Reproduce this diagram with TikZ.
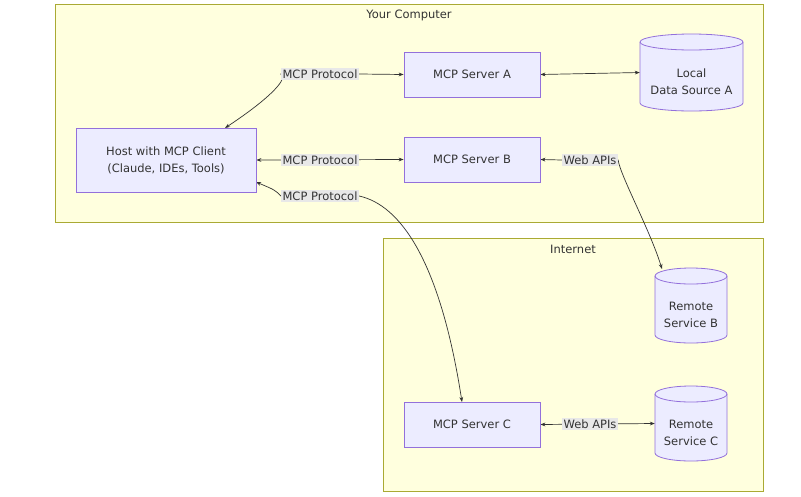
\documentclass[tikz,border=0pt]{standalone}
\usepackage{fontspec}
\setmainfont{DejaVu Sans}
\usetikzlibrary{arrows.meta}
\pgfdeclarelayer{bg}\pgfdeclarelayer{edges}
\pgfsetlayers{bg,edges,main}
\definecolor{cfill}{HTML}{FFFFDE}\definecolor{cline}{HTML}{AAAA33}
\definecolor{nfill}{HTML}{ECECFF}\definecolor{nline}{HTML}{9370DB}
\definecolor{txt}{HTML}{333333}\definecolor{lbl}{HTML}{E8E8E8}
\newcommand{\mycyl}[6]{% name, cx, cy, w, h, text
 \pgfmathsetmacro{\L}{#2-#4/2}\pgfmathsetmacro{\R}{#2+#4/2}
 \pgfmathsetmacro{\T}{#3-#5/2+8}\pgfmathsetmacro{\B}{#3+#5/2-8}\pgfmathsetmacro{\rx}{#4/2}
 \draw[cyl] (\L,\T) -- (\L,\B) arc[start angle=180,end angle=0,x radius=\rx,y radius=8] -- (\R,\T) arc[start angle=360,end angle=180,x radius=\rx,y radius=8] -- cycle;
 \draw[cyl,fill=none] (\L,\T) arc[start angle=180,end angle=0,x radius=\rx,y radius=8];
 \node[minimum width=#4pt,minimum height=#5pt,align=center,text depth=0pt] (#1) at (#2,#3) {};
 \node[align=center] (#1t) at (#2,#3+9) {#6};}
\begin{document}
\begin{tikzpicture}[x=1pt,y=-1pt,font=\fontsize{11.5}{17}\selectfont,text=txt,
 box/.style={draw=nline,fill=nfill,line width=0.8pt,minimum width=136pt,minimum height=45pt,align=center},
 cyl/.style={draw=nline,fill=nfill,line width=0.8pt},
 cl/.style={draw=cline,fill=cfill,line width=0.8pt},
 lab/.style={fill=lbl,inner sep=1.5pt},
 ar/.style={draw=txt,line width=0.7pt,{Stealth[length=5pt]}-{Stealth[length=5pt]}}]
\useasboundingbox (0,0) rectangle (801,496);
\begin{pgfonlayer}{bg}
\fill[white] (0,0) rectangle (801,496);
\draw[cl] (55,4) rectangle (763,222);
\draw[cl] (383,238) rectangle (763,491);
\end{pgfonlayer}
\node at (409,15) {Your Computer};
\node at (573,249) {Internet};
\node[box,minimum width=180pt,minimum height=64pt] (host) at (166,160) {Host with MCP Client\\(Claude, IDEs, Tools)};
\node[box] (a) at (472,74.5) {MCP Server A};
\node[box] (b) at (472,159.5) {MCP Server B};
\node[box] (c) at (472,424.5) {MCP Server C};
\mycyl{la}{691.5}{72.5}{103}{77}{Local\\Data Source A}
\mycyl{rb}{691}{305.5}{72}{75}{Remote\\Service B}
\mycyl{rc}{691}{423.5}{72}{75}{Remote\\Service C}
\node[lab] (l1) at (320,74) {MCP Protocol};
\node[lab] (l2) at (320,160) {MCP Protocol};
\node[lab] (l3) at (320,196) {MCP Protocol};
\node[lab] (w1) at (590,160) {Web APIs};
\node[lab] (w2) at (590,424) {Web APIs};
\begin{pgfonlayer}{edges}
\draw[ar] (225,128) .. controls (260,105) and (290,80) .. (l1.west) -- (l1.east) -- (a.west);
\draw[ar] (host.east) -- (b.west);
\draw[ar] (256,182) .. controls (275,190) .. (l3.west) -- (l3.east) .. controls (400,205) and (440,260) .. (462,402);
\draw[ar] (a.east) -- (la.west);
\draw[ar] (b.east) -- (w1.west) -- (w1.east) .. controls (620,175) and (650,230) .. (662,269);
\draw[ar] (c.east) -- (rc.west);
\end{pgfonlayer}
\end{tikzpicture}
\end{document}
